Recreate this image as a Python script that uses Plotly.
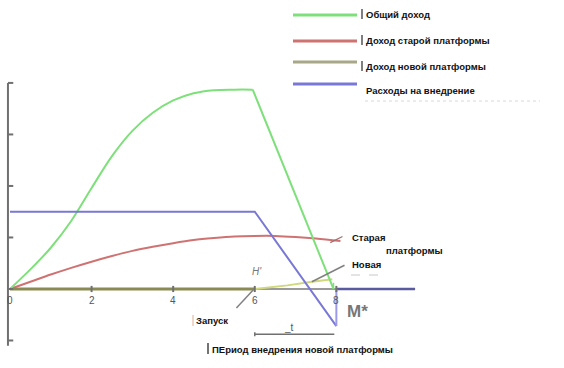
import plotly.graph_objects as go

# ---- data ----
x_total = [0, 0.5, 1, 1.5, 2, 2.5, 3, 3.5, 4, 4.5, 5, 5.5, 5.95, 7.93]
y_total = [0, 0.38, 0.8, 1.32, 1.96, 2.58, 3.07, 3.42, 3.66, 3.8, 3.86, 3.87, 3.87, 0.0]

x_old = [0, 0.5, 1, 1.5, 2, 2.5, 3, 3.5, 4, 4.5, 5, 5.5, 6, 6.5, 7, 7.5, 8.1]
y_old = [0, 0.14, 0.28, 0.41, 0.53, 0.64, 0.74, 0.82, 0.89, 0.95, 0.99, 1.02, 1.03, 1.03, 1.01, 0.98, 0.93]

x_new = [0, 6, 6.8, 7.4, 7.9]
y_new = [0, 0, 0.07, 0.14, 0.19]

x_cost = [0, 6, 8]
y_cost = [1.5, 1.5, -0.72]
x_cost_tail = [8, 8, 9.93]
y_cost_tail = [-0.72, 0, 0]

x_ticks = [0, 2, 4, 6, 8]
y_ticks = [-1, 0, 1, 2, 3, 4]

legend_labels = ["Общий доход", "Доход старой платформы", "Доход новой платформы", "Расходы на внедрение"]
colors = ["#7ee07a", "#cf7272", "#a8a888", "#7a78d6"]

W, H = 564, 368

def px(x):
    return x / W

def py(y):
    return 1 - y / H

fig = go.Figure()

# axes drawn as lines
fig.add_trace(go.Scatter(x=[-0.05, -0.05], y=[4.0, -1.1], mode="lines",
                         line=dict(color="#707070", width=2), hoverinfo="skip", showlegend=False))
fig.add_trace(go.Scatter(x=[6, 8], y=[0, 0], mode="lines",
                         line=dict(color="#9a9a9a", width=2), hoverinfo="skip", showlegend=False))
fig.add_trace(go.Scatter(x=[8, 9.93], y=[0, 0], mode="lines",
                         line=dict(color="#5a5aa0", width=2.5), hoverinfo="skip", showlegend=False))

# curves
fig.add_trace(go.Scatter(x=x_old, y=y_old, mode="lines", line=dict(color=colors[1], width=2),
                         line_shape="spline", showlegend=False))
fig.add_trace(go.Scatter(x=x_new[:2], y=y_new[:2], mode="lines", line=dict(color="#8a8a55", width=3),
                         showlegend=False))
fig.add_trace(go.Scatter(x=x_new[1:], y=y_new[1:], mode="lines", line=dict(color="#cfd87a", width=2),
                         showlegend=False))
fig.add_trace(go.Scatter(x=x_total[:-1], y=y_total[:-1], mode="lines", line=dict(color=colors[0], width=2),
                         line_shape="spline", showlegend=False))
fig.add_trace(go.Scatter(x=x_total[-2:], y=y_total[-2:], mode="lines", line=dict(color=colors[0], width=2),
                         showlegend=False))
fig.add_trace(go.Scatter(x=x_cost, y=y_cost, mode="lines", line=dict(color=colors[3], width=2),
                         showlegend=False))
fig.add_trace(go.Scatter(x=x_cost_tail[:2], y=y_cost_tail[:2], mode="lines",
                         line=dict(color="#9a9ae6", width=2), showlegend=False))
fig.add_trace(go.Scatter(x=[7.93, 7.93], y=[0, 0.12], mode="lines",
                         line=dict(color=colors[0], width=1.5), showlegend=False))

shapes = []
# tick marks
for t in x_ticks[1:]:
    shapes.append(dict(type="line", x0=t, x1=t, y0=-0.06, y1=0.06, line=dict(color="#707070", width=2)))
for t in y_ticks:
    shapes.append(dict(type="line", x0=-0.05, x1=0.08, y0=t, y1=t, line=dict(color="#707070", width=2)))
# interval line
shapes.append(dict(type="line", x0=6, x1=7.95, y0=-0.88, y1=-0.88, line=dict(color="#707070", width=1.5)))
shapes.append(dict(type="line", x0=6, x1=6, y0=-0.84, y1=-0.92, line=dict(color="#707070", width=1.5)))
# slash at launch
shapes.append(dict(type="line", x0=5.55, x1=5.96, y0=-0.37, y1=-0.02, line=dict(color="#808080", width=1.5)))
# pointer lines
shapes.append(dict(type="line", x0=7.4, x1=8.2, y0=0.14, y1=0.46, line=dict(color="#808080", width=1.5)))
shapes.append(dict(type="line", x0=7.85, x1=8.15, y0=0.9, y1=1.02, line=dict(color="#a07070", width=1.2)))
# faint lines
shapes.append(dict(type="line", xref="paper", yref="paper", x0=px(365), x1=px(540),
                   y0=py(101), y1=py(101), line=dict(color="#d8d8d8", width=1, dash="dot")))
shapes.append(dict(type="line", xref="paper", yref="paper", x0=px(351), x1=px(384),
                   y0=py(275), y1=py(275), line=dict(color="#c8c8c8", width=1, dash="dash")))

# legend lines (paper coords)
leg_y = [15, 41, 62, 84]
leg_text_y = [14, 40, 66, 91]
for i, lab in enumerate(legend_labels):
    shapes.append(dict(type="line", xref="paper", yref="paper", x0=px(293), x1=px(357),
                       y0=py(leg_y[i]), y1=py(leg_y[i]),
                       line=dict(color=colors[i], width=3)))
    if i < 3:
        shapes.append(dict(type="line", xref="paper", yref="paper", x0=px(362), x1=px(362),
                           y0=py(leg_text_y[i] - 5), y1=py(leg_text_y[i] + 5),
                           line=dict(color="#555555", width=1.5)))
shapes.append(dict(type="line", xref="paper", yref="paper", x0=px(208), x1=px(208),
                   y0=py(343), y1=py(354), line=dict(color="#444444", width=1.5)))
shapes.append(dict(type="line", xref="paper", yref="paper", x0=px(193), x1=px(193),
                   y0=py(315), y1=py(326), line=dict(color="#e0b090", width=1)))

annotations = []
for i, lab in enumerate(legend_labels):
    annotations.append(dict(xref="paper", yref="paper", x=px(364), y=py(leg_text_y[i]),
                            text="<b>" + lab + "</b>", showarrow=False, xanchor="left", yanchor="middle",
                            font=dict(size=9.5, color="#111111")))
for t in x_ticks:
    annotations.append(dict(x=t, y=-0.07, text=str(t), showarrow=False, yanchor="top",
                            font=dict(size=10, color="#555555")))

def txt(x, y, s, size=9.5, color="#111111", anchor="left"):
    annotations.append(dict(xref="paper", yref="paper", x=px(x), y=py(y), text=s,
                            showarrow=False, xanchor=anchor, yanchor="middle",
                            font=dict(size=size, color=color)))

txt(350, 237, "<b>Старая</b>")
txt(384, 250, "<b>платформы</b>")
txt(350, 264, "<b>Новая</b>")
txt(345, 311, "<b>M*</b>", size=17, color="#777777")
txt(194, 320, "<b>Запуск</b>")
txt(210, 349, "<b>ПЕриод внедрения новой платформы</b>")
txt(282, 327, "_t", size=10, color="#555555")
txt(250, 271, "<i>H'</i>", size=10, color="#777777")

fig.update_layout(
    width=W, height=H, margin=dict(l=0, r=0, t=0, b=0),
    paper_bgcolor="white", plot_bgcolor="white",
    xaxis=dict(range=[-0.245, 13.58], visible=False, fixedrange=True),
    yaxis=dict(range=[-1.534, 5.61], visible=False, fixedrange=True),
    shapes=shapes, annotations=annotations,
    font=dict(family="Liberation Sans, Arial, sans-serif"),
)

fig.write_html("out.html", config={"displayModeBar": False},
               post_script="document.body.style.margin='0';")
